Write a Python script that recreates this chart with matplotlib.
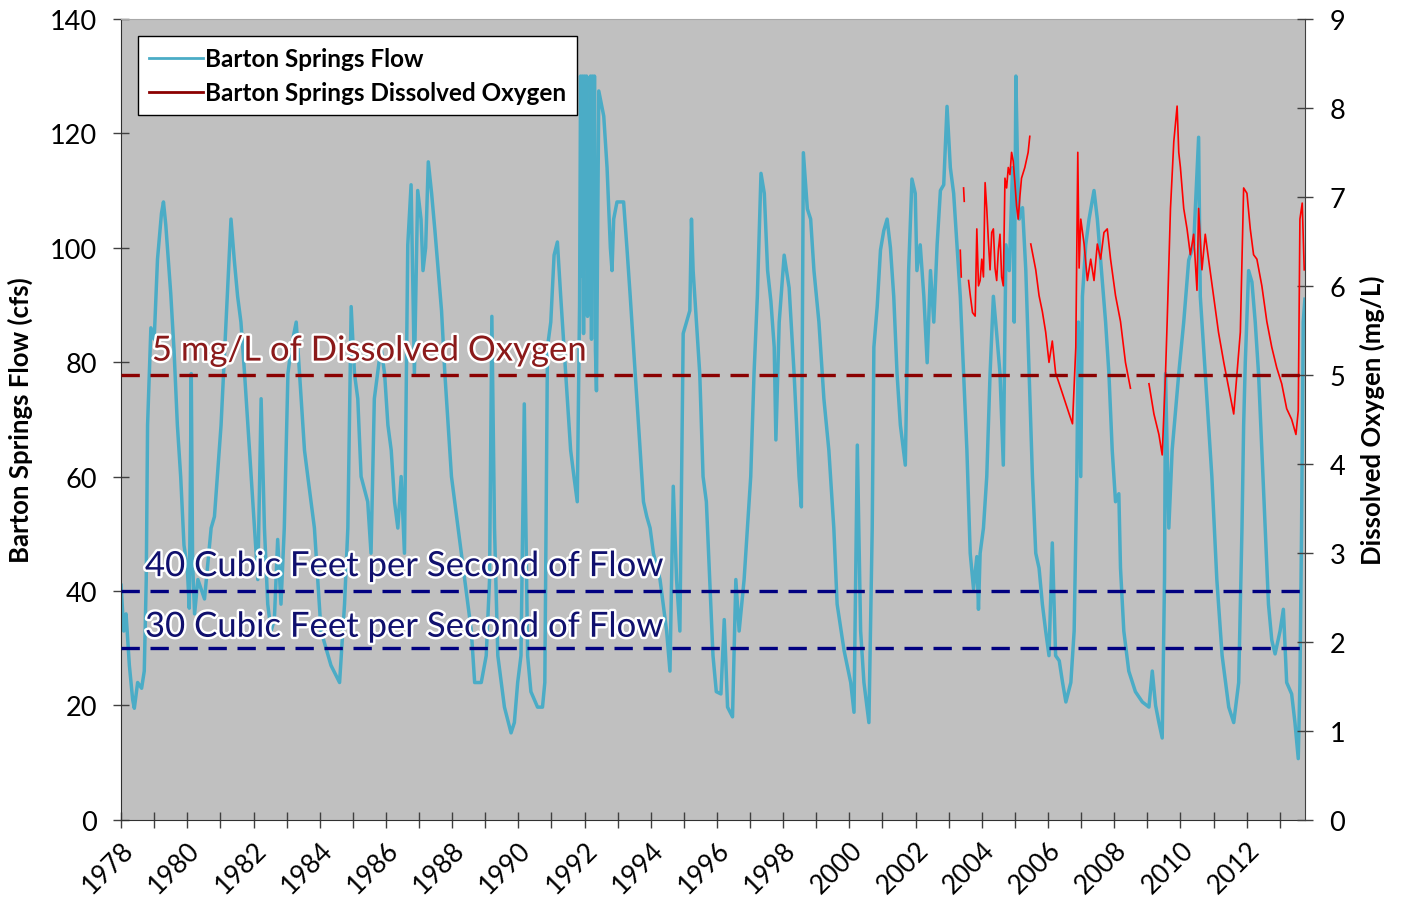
"""
plot.py -- Barton Springs flow vs dissolved oxygen, 1978-2013
Writes out.png (1408x903).
"""

import numpy as np
import matplotlib
matplotlib.use("Agg")
import matplotlib.pyplot as plt
from matplotlib import patheffects
from matplotlib.lines import Line2D

# ---------------------------------------------------------------------------
# Data
# ---------------------------------------------------------------------------
# Barton Springs flow, (decimal year, cfs)
FLOW = [
    (1978.00, 41), (1978.08, 33), (1978.15, 36), (1978.25, 27), (1978.35, 21),
    (1978.40, 19.5), (1978.50, 24), (1978.62, 23), (1978.70, 26), (1978.76, 42),
    (1978.80, 69), (1978.90, 86), (1979.00, 84), (1979.10, 98), (1979.22, 106),
    (1979.28, 108), (1979.35, 104), (1979.40, 100), (1979.50, 92), (1979.60, 82),
    (1979.70, 69), (1979.80, 60), (1979.90, 48), (1980.00, 44), (1980.06, 37),
    (1980.12, 78), (1980.16, 45), (1980.22, 36), (1980.32, 42), (1980.52, 38.6),
    (1980.72, 51), (1980.82, 53), (1981.02, 69), (1981.17, 87), (1981.32, 105),
    (1981.42, 97.8), (1981.52, 91.5), (1981.62, 87), (1981.73, 78), (1981.83, 69),
    (1981.93, 60), (1982.03, 51), (1982.13, 42), (1982.23, 73.6), (1982.33, 51),
    (1982.43, 37.7), (1982.53, 33), (1982.63, 35), (1982.73, 49), (1982.83, 37.7),
    (1982.93, 51), (1983.04, 78), (1983.14, 82.6), (1983.29, 87), (1983.39, 78),
    (1983.54, 64.6), (1983.64, 60), (1983.84, 51), (1984.04, 33), (1984.34, 27),
    (1984.60, 24), (1984.75, 37.7), (1984.85, 51), (1984.95, 89.7), (1985.05, 78),
    (1985.15, 73.6), (1985.25, 60), (1985.45, 55.6), (1985.55, 46.6), (1985.65, 73.6),
    (1985.85, 82.6), (1985.96, 78), (1986.06, 69), (1986.16, 64.6), (1986.26, 55.6),
    (1986.36, 51), (1986.46, 60), (1986.56, 46.6), (1986.66, 100.5), (1986.76, 111),
    (1986.86, 78), (1986.96, 110), (1987.06, 105), (1987.12, 96), (1987.20, 100),
    (1987.28, 115), (1987.38, 109.5), (1987.48, 103), (1987.58, 96), (1987.68, 89),
    (1987.78, 78), (1987.88, 69), (1987.98, 60), (1988.18, 51), (1988.38, 42),
    (1988.58, 33), (1988.68, 24), (1988.88, 24), (1989.03, 28.7), (1989.13, 42),
    (1989.20, 88), (1989.28, 51), (1989.38, 28.7), (1989.58, 19.7), (1989.78, 15.2),
    (1989.88, 17), (1989.98, 24), (1990.08, 28.7), (1990.18, 72.7), (1990.28, 28.7),
    (1990.38, 22.4), (1990.58, 19.7), (1990.73, 19.7), (1990.80, 24), (1990.88, 82.6),
    (1990.98, 87), (1991.08, 98.7), (1991.18, 101), (1991.28, 91.5), (1991.38, 82.6),
    (1991.48, 73.6), (1991.58, 64.6), (1991.68, 60), (1991.78, 55.6), (1991.85, 90),
    (1991.88, 130), (1991.91, 95), (1991.94, 130), (1991.97, 85), (1992.00, 130),
    (1992.03, 100), (1992.06, 130), (1992.09, 88), (1992.12, 125), (1992.15, 92),
    (1992.18, 130), (1992.21, 84), (1992.24, 130), (1992.27, 95), (1992.30, 130),
    (1992.33, 82), (1992.36, 75), (1992.43, 127.4), (1992.58, 123), (1992.68, 114),
    (1992.78, 100), (1992.83, 96), (1992.88, 105), (1992.98, 108), (1993.18, 108),
    (1993.28, 100), (1993.38, 91.5), (1993.48, 82.6), (1993.58, 73.6), (1993.68, 64.6),
    (1993.78, 55.6), (1993.88, 53), (1993.98, 51), (1994.08, 46.6), (1994.28, 42),
    (1994.48, 33), (1994.58, 26), (1994.68, 58.3), (1994.78, 42), (1994.88, 33),
    (1994.98, 85), (1995.08, 87), (1995.18, 89), (1995.23, 105), (1995.28, 96),
    (1995.38, 87), (1995.48, 78), (1995.58, 60), (1995.68, 55.6), (1995.78, 42),
    (1995.88, 28.7), (1995.98, 22.4), (1996.12, 22), (1996.22, 35), (1996.32, 19.7),
    (1996.47, 18), (1996.57, 42), (1996.67, 33), (1996.82, 42), (1996.92, 51),
    (1997.02, 60), (1997.12, 78), (1997.22, 91.5), (1997.33, 113), (1997.43, 109.5),
    (1997.53, 96), (1997.63, 90.6), (1997.73, 82.6), (1997.78, 66.4), (1997.88, 87),
    (1998.03, 98.7), (1998.18, 93), (1998.33, 78), (1998.48, 60), (1998.55, 54.7),
    (1998.61, 116.6), (1998.73, 106.8), (1998.83, 105), (1998.93, 96), (1999.08, 87),
    (1999.23, 73.6), (1999.38, 64.6), (1999.53, 51), (1999.63, 37.7), (1999.84, 29.6),
    (2000.04, 24), (2000.14, 18.8), (2000.24, 65.5), (2000.34, 33), (2000.44, 24),
    (2000.59, 17), (2000.69, 51), (2000.74, 82.6), (2000.84, 89.7), (2000.94, 99.6),
    (2001.04, 103), (2001.14, 105), (2001.24, 100), (2001.34, 91.5), (2001.44, 78),
    (2001.54, 69), (2001.69, 62), (2001.79, 96), (2001.89, 112), (2001.99, 109.5),
    (2002.04, 96), (2002.14, 100.5), (2002.25, 91.5), (2002.35, 79.9), (2002.45, 96),
    (2002.55, 87), (2002.65, 100.5), (2002.75, 110), (2002.85, 111), (2002.95, 124.7),
    (2003.05, 114), (2003.15, 109.5), (2003.25, 100.5), (2003.35, 91.5), (2003.45, 78),
    (2003.55, 64.6), (2003.65, 46.6), (2003.75, 40.4), (2003.85, 46), (2003.90, 36.8),
    (2003.95, 46.6), (2004.05, 51), (2004.15, 60), (2004.25, 78), (2004.35, 91.5),
    (2004.45, 85), (2004.55, 78), (2004.65, 62), (2004.73, 100.5), (2004.83, 96),
    (2004.93, 114), (2004.98, 87), (2005.03, 130), (2005.08, 114), (2005.13, 105),
    (2005.23, 107), (2005.33, 96), (2005.43, 78), (2005.53, 60), (2005.63, 46.6),
    (2005.73, 44), (2005.83, 37.7), (2005.93, 33), (2006.03, 28.7), (2006.13, 48.4),
    (2006.23, 28.7), (2006.34, 27.8), (2006.44, 24), (2006.54, 20.6), (2006.69, 24),
    (2006.79, 33), (2006.87, 60), (2006.92, 87), (2006.99, 60), (2007.04, 91.5),
    (2007.14, 100.5), (2007.24, 105), (2007.39, 110), (2007.49, 105), (2007.59, 97.8),
    (2007.74, 87), (2007.84, 78), (2007.94, 64.6), (2008.04, 55.6), (2008.14, 57),
    (2008.19, 44), (2008.29, 33), (2008.44, 26), (2008.64, 22.4), (2008.85, 20.6),
    (2009.05, 19.7), (2009.15, 26), (2009.25, 20), (2009.35, 17), (2009.45, 14.3),
    (2009.52, 42), (2009.55, 78), (2009.65, 51), (2009.75, 64.6), (2009.95, 78),
    (2010.10, 87), (2010.25, 97.8), (2010.40, 100.5), (2010.55, 119.3), (2010.60, 91.5),
    (2010.70, 82.6), (2010.80, 73.6), (2010.95, 60), (2011.10, 42), (2011.26, 28.7),
    (2011.46, 19.7), (2011.61, 17), (2011.76, 24), (2011.86, 51), (2011.91, 69),
    (2011.96, 80), (2012.06, 96), (2012.16, 94), (2012.26, 87), (2012.36, 78),
    (2012.46, 64.6), (2012.56, 51), (2012.66, 37.7), (2012.76, 31.4), (2012.86, 29),
    (2013.01, 33), (2013.11, 36.8), (2013.21, 24), (2013.36, 22), (2013.46, 17),
    (2013.56, 10.7), (2013.61, 24), (2013.66, 51), (2013.71, 87), (2013.76, 91),
]

# Barton Springs dissolved oxygen, (decimal year, mg/L); nan = gap in record
DISSOLVED_O2 = [
    (2003.35, 6.4), (2003.38, 6.1), (2003.40, np.nan),
    (2003.45, 7.1), (2003.47, 6.95), (2003.50, np.nan),
    (2003.60, 6.06), (2003.65, 5.9), (2003.72, 5.7), (2003.80, 5.66), (2003.85, 6.64),
    (2003.90, 6.0), (2003.95, 6.06), (2004.00, 6.3), (2004.05, 6.1), (2004.10, 7.16),
    (2004.15, 6.87), (2004.20, 6.5), (2004.25, 6.18), (2004.30, 6.6), (2004.35, 6.64),
    (2004.40, 6.2), (2004.45, 6.06), (2004.50, 6.4), (2004.55, 6.58), (2004.60, 6.1),
    (2004.65, 6.0), (2004.70, 7.21), (2004.75, 7.1), (2004.80, 7.33), (2004.85, 7.25),
    (2004.90, 7.5), (2004.95, 7.4), (2005.00, 7.16), (2005.05, 6.9), (2005.10, 6.75),
    (2005.15, 7.0), (2005.20, 7.21), (2005.30, 7.33), (2005.40, 7.5), (2005.45, 7.68),
    (2005.46, np.nan),
    (2005.48, 6.47), (2005.63, 6.18), (2005.73, 5.89), (2005.83, 5.71), (2005.93, 5.48),
    (2006.03, 5.14), (2006.13, 5.38), (2006.23, 5.02), (2006.34, 4.9), (2006.49, 4.73),
    (2006.64, 4.56), (2006.74, 4.45), (2006.84, 5.31), (2006.90, 7.5), (2006.94, 6.2),
    (2006.99, 6.75), (2007.09, 6.47), (2007.19, 6.06), (2007.29, 6.3), (2007.39, 6.06),
    (2007.49, 6.47), (2007.59, 6.3), (2007.69, 6.6), (2007.79, 6.64), (2007.89, 6.3),
    (2008.04, 5.89), (2008.19, 5.6), (2008.34, 5.14), (2008.49, 4.85), (2008.52, np.nan),
    (2009.05, 4.9), (2009.20, 4.56), (2009.35, 4.33), (2009.45, 4.1), (2009.55, 5.02),
    (2009.60, 5.6), (2009.70, 6.87), (2009.80, 7.62), (2009.90, 8.02), (2009.95, 7.5),
    (2010.00, 7.33), (2010.10, 6.87), (2010.20, 6.64), (2010.30, 6.35), (2010.40, 6.58),
    (2010.50, 5.95), (2010.55, 6.87), (2010.65, 6.18), (2010.75, 6.58), (2010.85, 6.3),
    (2011.00, 5.89), (2011.15, 5.48), (2011.31, 5.14), (2011.46, 4.85), (2011.61, 4.56),
    (2011.71, 5.02), (2011.81, 5.48), (2011.91, 7.1), (2012.01, 7.04), (2012.11, 6.64),
    (2012.21, 6.35), (2012.31, 6.3), (2012.46, 6.0), (2012.61, 5.6), (2012.76, 5.31),
    (2012.91, 5.08), (2013.06, 4.9), (2013.21, 4.62), (2013.36, 4.5), (2013.49, 4.33),
    (2013.56, 4.6), (2013.61, 6.75), (2013.68, 6.93), (2013.74, 6.18),
]

FLOW_THRESHOLDS = [40, 30]          # cfs
DO_THRESHOLD = 5                    # mg/L
YEAR_TICKS = list(range(1978, 2014))
FLOW_TICKS = list(range(0, 141, 20))
DO_TICKS = list(range(0, 10))

# ---------------------------------------------------------------------------
# Style
# ---------------------------------------------------------------------------
FONT = ["Lato", "DejaVu Sans"]
plt.rcParams["font.family"] = FONT

BG_GRAY = "#c0c0c0"
FLOW_BLUE = "#4bacc6"
DO_RED = "#ff0000"
LINE_DARKRED = "#8b0000"
LINE_NAVY = "#000080"

flow_year, flow_cfs = zip(*FLOW)
do_year, do_mgl = zip(*DISSOLVED_O2)

fig = plt.figure(figsize=(14.08, 9.03), dpi=100)
ax1 = fig.add_axes([0.086, 0.091, 0.841, 0.887])
ax2 = ax1.twinx()

ax1.set_facecolor(BG_GRAY)

# ── series ────────────────────────────────────────────────────────────────
ax1.plot(flow_year, flow_cfs, color=FLOW_BLUE, lw=2.5, zorder=2)
for thr in FLOW_THRESHOLDS:
    ax1.axhline(thr, color=LINE_NAVY, lw=2.4, dashes=(5.5, 3.2), zorder=3)

ax2.plot(do_year, do_mgl, color=DO_RED, lw=1.2, zorder=2)
ax2.axhline(DO_THRESHOLD, color=LINE_DARKRED, lw=2.4, dashes=(5.5, 3.2), zorder=3)

# ── axes ──────────────────────────────────────────────────────────────────
ax1.set_xlim(1978, 2013.77)
ax1.set_ylim(0, 140)
ax2.set_ylim(0, 9)

ax1.set_xticks(YEAR_TICKS)
ax1.set_xticklabels([str(y) if y % 2 == 0 else "" for y in YEAR_TICKS],
                    rotation=45, ha="right", va="top", rotation_mode="anchor")
ax1.set_yticks(FLOW_TICKS)
ax2.set_yticks(DO_TICKS)

ax1.tick_params(axis="x", direction="inout", length=12, width=1,
                labelsize=19, pad=6, color="#404040")
ax1.tick_params(axis="y", direction="inout", length=11, width=1,
                labelsize=19.5, pad=12, color="#404040")
ax2.tick_params(axis="y", direction="inout", length=11, width=1,
                labelsize=19.5, pad=12, color="#404040")

ax1.set_ylabel("Barton Springs Flow (cfs)", fontsize=18.5, fontweight="bold",
               labelpad=12)
ax2.set_ylabel("Dissolved Oxygen (mg/L)", fontsize=18.5, fontweight="bold",
               labelpad=10)

for side in ("left", "bottom"):
    ax1.spines[side].set_color("#303030")
ax1.spines["top"].set_color("#a8a8a8")
ax1.spines["right"].set_visible(False)
for side in ("left", "bottom", "top"):
    ax2.spines[side].set_visible(False)
ax2.spines["right"].set_color("#404040")

# ── threshold annotations ─────────────────────────────────────────────────
glow = [patheffects.withStroke(linewidth=3.5, foreground="white")]
ax2.text(1978.93, 5.16, "5 mg/L of Dissolved Oxygen", fontsize=25,
         color="#8b1a1a", va="baseline", ha="left", zorder=6, path_effects=glow)
ax2.text(1978.72, 42.6, "40 Cubic Feet per Second of Flow", fontsize=25,
         color="#10106e", va="baseline", ha="left", zorder=6, path_effects=glow,
         transform=ax1.transData)
ax2.text(1978.72, 32.0, "30 Cubic Feet per Second of Flow", fontsize=25,
         color="#10106e", va="baseline", ha="left", zorder=6, path_effects=glow,
         transform=ax1.transData)

# ── legend ────────────────────────────────────────────────────────────────
handles = [
    Line2D([], [], color=FLOW_BLUE, lw=2.0),
    Line2D([], [], color=LINE_DARKRED, lw=2.0),
]
leg = ax2.legend(handles, ["Barton Springs Flow", "Barton Springs Dissolved Oxygen"],
                 loc="upper left", bbox_to_anchor=(0.0144, 0.978),
                 borderaxespad=0, frameon=True, fancybox=False,
                 prop={"family": FONT, "weight": "bold", "size": 17.5},
                 handlelength=2.2, handletextpad=0.1, labelspacing=0.45,
                 borderpad=0.45)
leg.get_frame().set_edgecolor("black")
leg.get_frame().set_linewidth(1.0)
leg.get_frame().set_facecolor("white")
leg.get_frame().set_alpha(1.0)
leg.set_zorder(10)

fig.savefig("out.png", dpi=100, facecolor="white")
plt.close(fig)
